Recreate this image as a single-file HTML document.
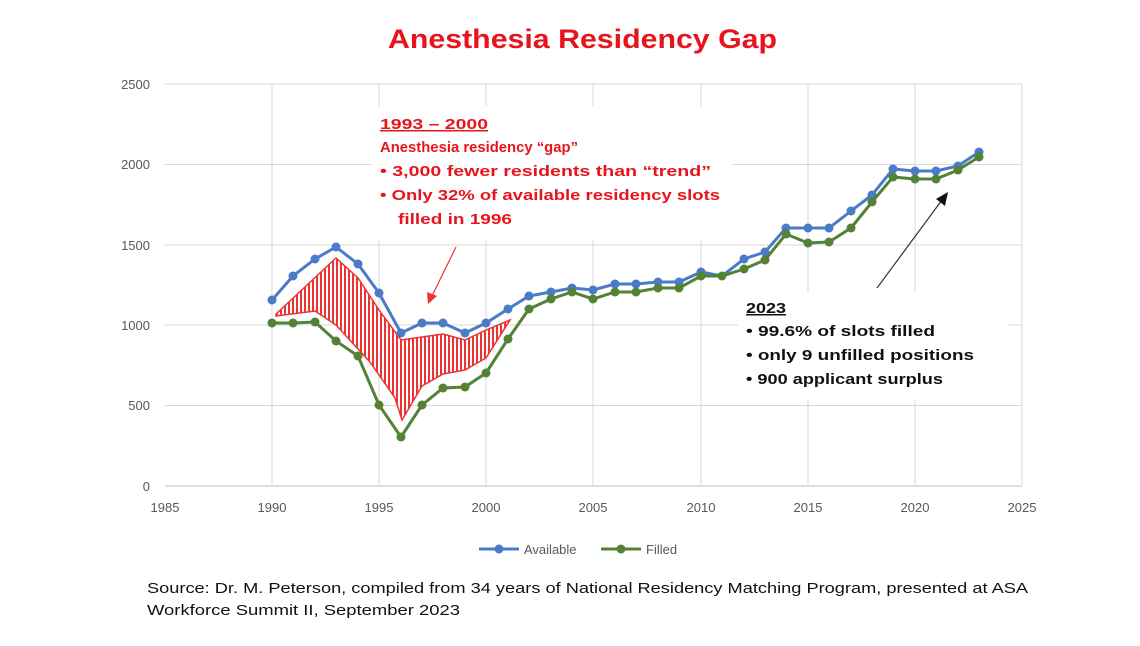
<!DOCTYPE html>
<html><head><meta charset="utf-8"><style>
body{margin:0;background:#fff;width:1140px;height:641px;overflow:hidden;font-family:"Liberation Sans",sans-serif}
</style></head><body>
<svg width="1140" height="641" viewBox="0 0 1140 641" xmlns="http://www.w3.org/2000/svg" font-family="Liberation Sans, sans-serif">
<defs><pattern id="h" width="4" height="4" patternUnits="userSpaceOnUse"><rect width="4" height="4" fill="#fff"/><rect width="2" height="4" fill="#e33"/></pattern></defs>
<text x="388" y="48" textLength="389" lengthAdjust="spacingAndGlyphs" font-size="27" font-weight="bold" fill="#e8141c">Anesthesia Residency Gap</text>
<g stroke="#d9d9d9" stroke-width="1">
<line x1="165" y1="84" x2="1022" y2="84"/><line x1="165" y1="164.5" x2="1022" y2="164.5"/><line x1="165" y1="245" x2="1022" y2="245"/><line x1="165" y1="325" x2="1022" y2="325"/><line x1="165" y1="405.5" x2="1022" y2="405.5"/>
<line x1="272" y1="84" x2="272" y2="486"/><line x1="379" y1="84" x2="379" y2="486"/><line x1="486" y1="84" x2="486" y2="486"/><line x1="593" y1="84" x2="593" y2="486"/><line x1="701" y1="84" x2="701" y2="486"/><line x1="808" y1="84" x2="808" y2="486"/><line x1="915" y1="84" x2="915" y2="486"/><line x1="1022" y1="84" x2="1022" y2="486"/>
</g>
<line x1="165" y1="486" x2="1022" y2="486" stroke="#bfbfbf"/>
<g font-size="13" fill="#595959" text-anchor="end">
<text x="150" y="89">2500</text><text x="150" y="169">2000</text><text x="150" y="250">1500</text><text x="150" y="330">1000</text><text x="150" y="410">500</text><text x="150" y="491">0</text></g>
<g font-size="13" fill="#595959" text-anchor="middle">
<text x="165" y="512">1985</text><text x="272" y="512">1990</text><text x="379" y="512">1995</text><text x="486" y="512">2000</text><text x="593" y="512">2005</text><text x="701" y="512">2010</text><text x="808" y="512">2015</text><text x="915" y="512">2020</text><text x="1022" y="512">2025</text></g>
<rect x="372" y="106" width="360" height="134" fill="#fff"/>
<rect x="738" y="292" width="270" height="108" fill="#fff"/>
<polygon points="276,314 336,258 358,278 379,310 401,340 422,337 443,334 465,340 486,330 510,320 486,358 465,370 443,374 422,386 402,420 395,398 370,362 336,325 315,311 276,316" fill="url(#h)" stroke="#e33" stroke-width="1.5"/>
<polyline fill="none" stroke="#4a7ac8" stroke-width="3" points="272,300 293,276 315,259 336,247 358,264 379,293 401,333 422,323 443,323 465,333 486,323 508,309 529,296 551,292 572,288 593,290 615,284 636,284 658,282 679,282 701,272 722,276 744,259 765,252 786,228 808,228 829,228 851,211 872,195 893,169 915,171 936,171 958,166 979,152"/>
<g fill="#4a7ac8"><circle cx="272" cy="300" r="4.5"/><circle cx="293" cy="276" r="4.5"/><circle cx="315" cy="259" r="4.5"/><circle cx="336" cy="247" r="4.5"/><circle cx="358" cy="264" r="4.5"/><circle cx="379" cy="293" r="4.5"/><circle cx="401" cy="333" r="4.5"/><circle cx="422" cy="323" r="4.5"/><circle cx="443" cy="323" r="4.5"/><circle cx="465" cy="333" r="4.5"/><circle cx="486" cy="323" r="4.5"/><circle cx="508" cy="309" r="4.5"/><circle cx="529" cy="296" r="4.5"/><circle cx="551" cy="292" r="4.5"/><circle cx="572" cy="288" r="4.5"/><circle cx="593" cy="290" r="4.5"/><circle cx="615" cy="284" r="4.5"/><circle cx="636" cy="284" r="4.5"/><circle cx="658" cy="282" r="4.5"/><circle cx="679" cy="282" r="4.5"/><circle cx="701" cy="272" r="4.5"/><circle cx="744" cy="259" r="4.5"/><circle cx="765" cy="252" r="4.5"/><circle cx="786" cy="228" r="4.5"/><circle cx="808" cy="228" r="4.5"/><circle cx="829" cy="228" r="4.5"/><circle cx="851" cy="211" r="4.5"/><circle cx="872" cy="195" r="4.5"/><circle cx="893" cy="169" r="4.5"/><circle cx="915" cy="171" r="4.5"/><circle cx="936" cy="171" r="4.5"/><circle cx="958" cy="166" r="4.5"/><circle cx="979" cy="152" r="4.5"/></g>
<polyline fill="none" stroke="#548235" stroke-width="3" points="272,323 293,323 315,322 336,341 358,356 379,405 401,437 422,405 443,388 465,387 486,373 508,339 529,309 551,299 572,292 593,299 615,292 636,292 658,288 679,288 701,276 722,276 744,269 765,260 786,234 808,243 829,242 851,228 872,202 893,177 915,179 936,179 958,170 979,157"/>
<g fill="#548235"><circle cx="272" cy="323" r="4.5"/><circle cx="293" cy="323" r="4.5"/><circle cx="315" cy="322" r="4.5"/><circle cx="336" cy="341" r="4.5"/><circle cx="358" cy="356" r="4.5"/><circle cx="379" cy="405" r="4.5"/><circle cx="401" cy="437" r="4.5"/><circle cx="422" cy="405" r="4.5"/><circle cx="443" cy="388" r="4.5"/><circle cx="465" cy="387" r="4.5"/><circle cx="486" cy="373" r="4.5"/><circle cx="508" cy="339" r="4.5"/><circle cx="529" cy="309" r="4.5"/><circle cx="551" cy="299" r="4.5"/><circle cx="572" cy="292" r="4.5"/><circle cx="593" cy="299" r="4.5"/><circle cx="615" cy="292" r="4.5"/><circle cx="636" cy="292" r="4.5"/><circle cx="658" cy="288" r="4.5"/><circle cx="679" cy="288" r="4.5"/><circle cx="701" cy="276" r="4.5"/><circle cx="722" cy="276" r="4.5"/><circle cx="744" cy="269" r="4.5"/><circle cx="765" cy="260" r="4.5"/><circle cx="786" cy="234" r="4.5"/><circle cx="808" cy="243" r="4.5"/><circle cx="829" cy="242" r="4.5"/><circle cx="851" cy="228" r="4.5"/><circle cx="872" cy="202" r="4.5"/><circle cx="893" cy="177" r="4.5"/><circle cx="915" cy="179" r="4.5"/><circle cx="936" cy="179" r="4.5"/><circle cx="958" cy="170" r="4.5"/><circle cx="979" cy="157" r="4.5"/></g>
<g font-size="15" font-weight="bold" fill="#e8141c" lengthAdjust="spacingAndGlyphs">
<text x="380" y="129" textLength="108" lengthAdjust="spacingAndGlyphs" text-decoration="underline">1993 – 2000</text>
<text x="380" y="152" textLength="198" lengthAdjust="spacingAndGlyphs">Anesthesia residency “gap”</text>
<text x="380" y="176" textLength="331" lengthAdjust="spacingAndGlyphs">•  3,000 fewer residents than “trend”</text>
<text x="380" y="200" textLength="340" lengthAdjust="spacingAndGlyphs">•  Only 32% of available residency slots</text>
<text x="398" y="224" textLength="114" lengthAdjust="spacingAndGlyphs">filled in 1996</text></g>
<line x1="456" y1="247" x2="432" y2="296" stroke="#e33" stroke-width="1.2"/>
<polygon points="428,304 427,292 437,296" fill="#e33"/>
<line x1="877" y1="288" x2="942" y2="200" stroke="#333" stroke-width="1.2"/>
<polygon points="948,192 936,199 945,206" fill="#111"/>
<g font-size="15" font-weight="bold" fill="#111">
<text x="746" y="313" textLength="40" lengthAdjust="spacingAndGlyphs" text-decoration="underline">2023</text>
<text x="746" y="336" textLength="189" lengthAdjust="spacingAndGlyphs">•  99.6% of slots filled</text>
<text x="746" y="360" textLength="228" lengthAdjust="spacingAndGlyphs">•  only 9 unfilled positions</text>
<text x="746" y="384" textLength="197" lengthAdjust="spacingAndGlyphs">•  900 applicant surplus</text></g>
<g font-size="13" fill="#595959">
<line x1="479" y1="549" x2="519" y2="549" stroke="#4a7ac8" stroke-width="3"/><circle cx="499" cy="549" r="4.5" fill="#4a7ac8"/>
<text x="524" y="554">Available</text>
<line x1="601" y1="549" x2="641" y2="549" stroke="#548235" stroke-width="3"/><circle cx="621" cy="549" r="4.5" fill="#548235"/>
<text x="646" y="554">Filled</text></g>
<g font-size="15" fill="#111">
<text x="147" y="593" textLength="881" lengthAdjust="spacingAndGlyphs">Source:  Dr. M. Peterson, compiled from 34 years of National Residency Matching Program, presented at ASA</text>
<text x="147" y="615" textLength="313" lengthAdjust="spacingAndGlyphs">Workforce Summit II, September 2023</text></g>
</svg>
</body></html>
